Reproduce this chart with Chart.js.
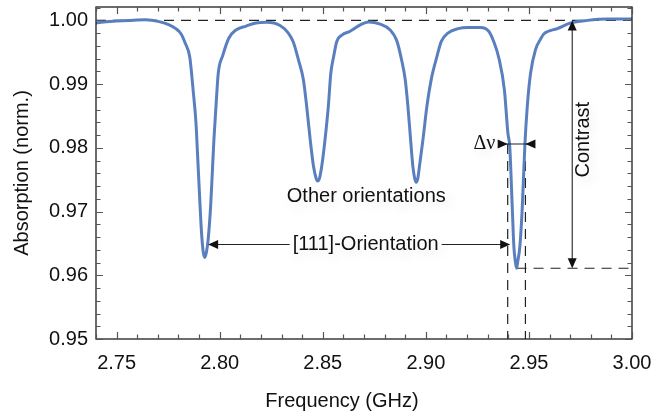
<!DOCTYPE html>
<html><head><meta charset="utf-8">
<script src="https://cdn.jsdelivr.net/npm/chart.js@4.4.1/dist/chart.umd.min.js"></script>
<style>html,body{margin:0;padding:0;background:#fff}#wrap{width:665px;height:414px}</style>
</head><body><div id="wrap"><canvas id="c" width="665" height="414"></canvas></div>
<script>
// ---- data ----
const FREQ = [2.740,2.745,2.750,2.756,2.764,2.7706,2.7755,2.7787,2.7812,2.7833,2.7855,2.7871,2.7885,2.7893,2.7901,2.7912,2.7920,2.7928,2.7936,2.7944,2.7956,2.7964,2.7972,2.7982,2.7993,2.8015,2.8044,2.8079,2.8128,2.8176,2.8228,2.8293,2.8333,2.8357,2.8382,2.8406,2.8422,2.8439,2.8455,2.8468,2.8476,2.8484,2.8495,2.8511,2.8527,2.8539,2.8552,2.8568,2.8593,2.8633,2.8682,2.8722,2.8779,2.8827,2.8858,2.8881,2.8900,2.8913,2.8926,2.8937,2.8946,2.8953,2.8961,2.8969,2.8986,2.9005,2.9026,2.9051,2.9075,2.9107,2.9156,2.9204,2.9265,2.9305,2.9329,2.9354,2.9381,2.9398,2.9407,2.9419,2.9427,2.9434,2.9440,2.9446,2.9456,2.9468,2.9480,2.9492,2.9508,2.9532,2.9557,2.9573,2.9638,2.9703,2.9784,2.9881,3.000];
const ABSORPTION = [0.9996,0.9998,0.9999,1.0000,1.0001,0.9998,0.9993,0.9987,0.9979,0.9964,0.9942,0.9891,0.9839,0.9787,0.9734,0.9666,0.9637,0.9628,0.9637,0.9656,0.9708,0.9760,0.9813,0.9865,0.9917,0.9945,0.9972,0.9985,0.9991,0.9996,0.9997,0.9992,0.9980,0.9966,0.9938,0.9907,0.9865,0.9813,0.9771,0.9752,0.9748,0.9752,0.9771,0.9813,0.9865,0.9917,0.9942,0.9967,0.9977,0.9983,0.9993,0.99975,0.9994,0.9985,0.9969,0.9940,0.9907,0.9865,0.9813,0.9771,0.9752,0.9746,0.9752,0.9771,0.9813,0.9865,0.9907,0.9940,0.9967,0.9980,0.9987,0.9989,0.9989,0.9983,0.9967,0.9941,0.9891,0.9823,0.9802,0.9708,0.9645,0.9622,0.9611,0.9622,0.9645,0.9708,0.9802,0.9865,0.9917,0.9954,0.9971,0.9979,0.9987,0.9996,1.0000,1.0002,1.0002];

const X_LABEL_TICKS = [2.75,2.80,2.85,2.90,2.95,3.00];
const X_MINOR_TICKS = [2.74,2.75,2.76,2.77,2.78,2.79,2.80,2.81,2.82,2.83,2.84,2.85,2.86,2.87,2.88,2.89,2.90,2.91,2.92,2.93,2.94,2.95,2.96,2.97,2.98,2.99,3.00];
const Y_LABEL_TICKS = [0.95,0.96,0.97,0.98,0.99,1.00];
const Y_MINOR_TICKS = [0.952,0.954,0.956,0.958,0.962,0.964,0.966,0.968,0.972,0.974,0.976,0.978,0.982,0.984,0.986,0.988,0.992,0.994,0.996,0.998,1.002];

// annotation values (data units)
const BASELINE = 1.00;
const DIP_MIN = {x:2.944, y:0.9611};
const HALF_LEVEL = 0.9806;
const FWHM_LEFT = 2.9397, FWHM_RIGHT = 2.9483;
const CONTRAST_X = 2.971;

const FONT = "'Liberation Sans', Arial, sans-serif";

const points = FREQ.map((f,i)=>({x:f, y:ABSORPTION[i]}));
const dashStyle = {borderColor:'#222', borderWidth:1.2, borderDash:[10,7], pointRadius:0, showLine:true, fill:false, order:1};

const annot = {
  id:'annot',
  afterDraw(chart){
    const {ctx, chartArea:a, scales:{x,y}} = chart;
    const X = v=>x.getPixelForValue(v), Y = v=>y.getPixelForValue(v);
    ctx.save();
    // frame
    ctx.strokeStyle='#1e1e1e'; ctx.lineWidth=1.3;
    ctx.strokeRect(a.left, a.top, a.right-a.left, a.bottom-a.top);
    // inward ticks
    ctx.strokeStyle='#555'; ctx.lineWidth=1.2;
    ctx.beginPath();
    X_MINOR_TICKS.forEach(v=>{
      const L = X_LABEL_TICKS.some(m=>Math.abs(m-v)<1e-6) ? 7 : 4.5;
      const p = Math.round(X(v))+0.5;
      ctx.moveTo(p,a.bottom); ctx.lineTo(p,a.bottom-L);
      ctx.moveTo(p,a.top); ctx.lineTo(p,a.top+L);
    });
    Y_LABEL_TICKS.concat(Y_MINOR_TICKS).forEach(v=>{
      const L = Y_LABEL_TICKS.some(m=>Math.abs(m-v)<1e-6) ? 7 : 4.5;
      const p = Math.round(Y(v))+0.5;
      ctx.moveTo(a.left,p); ctx.lineTo(a.left+L,p);
      ctx.moveTo(a.right,p); ctx.lineTo(a.right-L,p);
    });
    ctx.stroke();

    // arrows
    const head = (tx,ty,dx,dy)=>{ // tip at tx,ty pointing along dx,dy
      const len=10, hw=4.5, nx=-dy, ny=dx;
      ctx.beginPath();
      ctx.moveTo(tx,ty);
      ctx.lineTo(tx-dx*len+nx*hw, ty-dy*len+ny*hw);
      ctx.lineTo(tx-dx*len-nx*hw, ty-dy*len-ny*hw);
      ctx.closePath(); ctx.fill();
    };
    const line = (x1,y1,x2,y2)=>{ctx.beginPath();ctx.moveTo(x1,y1);ctx.lineTo(x2,y2);ctx.stroke();};
    ctx.strokeStyle='#222'; ctx.fillStyle='#111'; ctx.lineWidth=1.1;

    // Contrast arrow
    const cx = X(CONTRAST_X);
    line(cx, Y(BASELINE)+6, cx, Y(DIP_MIN.y)-6);
    head(cx, Y(BASELINE), 0, -1);
    head(cx, Y(DIP_MIN.y), 0, 1);

    // delta nu arrow
    const hy = Y(HALF_LEVEL);
    line(X(FWHM_LEFT)-9, hy, X(FWHM_RIGHT)+9, hy);
    head(X(FWHM_LEFT), hy, 1, 0);
    head(X(FWHM_RIGHT), hy, -1, 0);

    // texts
    const txt = (s, xv, yv, opts={})=>{
      ctx.save();
      ctx.font = opts.font || `20px ${FONT}`;
      ctx.fillStyle='#111';
      ctx.textAlign='center'; ctx.textBaseline='middle';
      ctx.shadowColor='rgba(0,0,0,0.13)'; ctx.shadowBlur=12; ctx.shadowOffsetX=4; ctx.shadowOffsetY=5;
      ctx.translate(xv, yv);
      if (opts.rot) ctx.rotate(opts.rot);
      ctx.fillText(s,0,0);
      ctx.restore();
    };
    txt('Other orientations', X(2.8711), Y(0.97232));
    const oy = Y(0.96484), ox = X(2.8708);
    txt('[111]-Orientation', ox, oy);
    ctx.font = `20px ${FONT}`;
    const w = ctx.measureText('[111]-Orientation').width;
    ctx.strokeStyle='#222'; ctx.fillStyle='#111'; ctx.lineWidth=1.1;
    line(ox-w/2-3, oy, X(2.7944)+6, oy); head(X(2.7944), oy, -1, 0);
    line(ox+w/2+3, oy, X(2.9409)-6, oy); head(X(2.9409), oy, 1, 0);
    txt('Contrast', X(2.9765), Y(0.98127), {rot:-Math.PI/2});
    txt('\u0394\u03bd', X(2.9284), Y(HALF_LEVEL), {font:`20px 'Liberation Serif', 'Times New Roman', serif`});

    // axis titles
    ctx.save();
    ctx.font = `20px ${FONT}`; ctx.fillStyle='#111'; ctx.textAlign='center'; ctx.textBaseline='middle';
    ctx.fillText('Frequency (GHz)', 342, 401);
    ctx.translate(22, (a.top+a.bottom)/2); ctx.rotate(-Math.PI/2);
    ctx.fillText('Absorption (norm.)', 0, 0);
    ctx.restore();
    ctx.restore();
  }
};

new Chart(document.getElementById('c'), {
  type:'scatter',
  data:{datasets:[
    {data:points, borderColor:'#5a7fbf', borderWidth:3, pointRadius:0, showLine:true, fill:false, cubicInterpolationMode:'monotone', order:0},
    Object.assign({data:[{x:2.74,y:BASELINE},{x:3.00,y:BASELINE}]}, dashStyle),
    Object.assign({data:[{x:DIP_MIN.x,y:DIP_MIN.y},{x:3.00,y:DIP_MIN.y}]}, dashStyle),
    Object.assign({data:[{x:FWHM_LEFT,y:HALF_LEVEL},{x:FWHM_LEFT,y:0.95}]}, dashStyle),
    Object.assign({data:[{x:FWHM_RIGHT,y:HALF_LEVEL},{x:FWHM_RIGHT,y:0.95}]}, dashStyle)
  ]},
  options:{
    responsive:false, animation:false, devicePixelRatio:1,
    layout:{padding:{left:0,right:33,top:7,bottom:0}},
    plugins:{legend:{display:false}, tooltip:{enabled:false}},
    scales:{
      x:{type:'linear', min:2.74, max:3.00,
        afterBuildTicks:s=>{s.ticks = X_LABEL_TICKS.map(v=>({value:v}));},
        afterFit:s=>{s.height=75;},
        grid:{display:false, drawTicks:false}, border:{display:false},
        ticks:{autoSkip:false, maxRotation:0, padding:12, color:'#111', font:{family:FONT,size:20}, callback:v=>v.toFixed(2)}},
      y:{type:'linear', min:0.95, max:1.0021,
        afterBuildTicks:s=>{s.ticks = Y_LABEL_TICKS.map(v=>({value:v}));},
        afterFit:s=>{s.width=96; s.paddingTop=0; s.paddingBottom=0;},
        grid:{display:false, drawTicks:false}, border:{display:false},
        ticks:{autoSkip:false, padding:8, color:'#111', font:{family:FONT,size:20,lineHeight:0.6}, callback:v=>v.toFixed(2)}}
    }
  },
  plugins:[annot]
});
</script></body></html>
